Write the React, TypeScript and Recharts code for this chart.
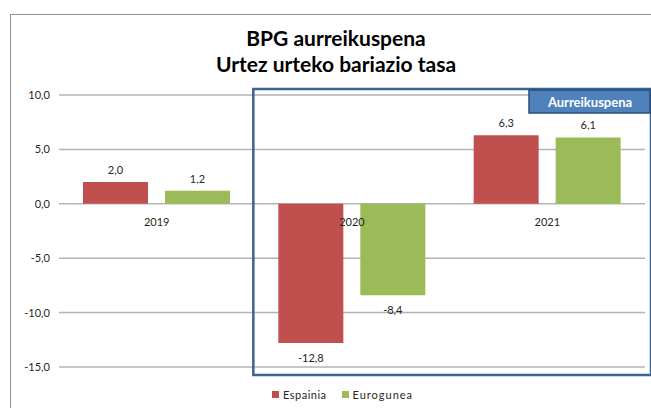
import React from 'react';
import {
  BarChart, Bar, XAxis, YAxis, CartesianGrid, LabelList,
  ReferenceArea, ReferenceDot, Legend
} from 'recharts';

const years = ['2019', '2020', '2021'];
const espainia = [2.0, -12.8, 6.3];
const eurogunea = [1.2, -8.4, 6.1];
const yTicks = [-15, -10, -5, 0, 5, 10];
const seriesNames = ['Espainia', 'Eurogunea'];
const forecastYears = ['2020', '2021'];
const forecastLabel = 'Aurreikuspena';
const titleLines = ['BPG aurreikuspena', 'Urtez urteko bariazio tasa'];

const RED = '#C0504D';
const GREEN = '#9BBB59';
const TEXT = '#262626';
const FONT = 'Lato, "Open Sans", sans-serif';

const data = years.map((year, i) => ({ year, espainia: espainia[i], eurogunea: eurogunea[i] }));

const fmt = (v: number) => Number(v).toFixed(1).replace('.', ',');

const ValueLabel = (props: any) => {
  const { x, y, width, height, value } = props;
  const top = Math.min(y, y + height);
  const bottom = Math.max(y, y + height);
  const ty = value >= 0 ? top - 8 : bottom + 19;
  return (
    <text x={x + width / 2} y={ty} textAnchor="middle" fontSize={11} fill={TEXT} fontFamily={FONT}>
      {fmt(value)}
    </text>
  );
};

// box drawn a bit outside the plot area, like the original
const ForecastBox = (props: any) => {
  const { x, y, width, height } = props;
  const bx = x - 1;
  const by = y - 6;
  const bw = width + 7;
  const bh = height + 14;
  const lw = 122;
  const lx = bx + bw - lw;
  return (
    <g>
      <rect x={bx} y={by} width={bw} height={bh} fill="none" stroke="#3B6397" strokeWidth={2.5} />
      <rect x={lx} y={by + 1} width={lw - 1} height={23} fill="#4F81BD" stroke="#2C4D75" strokeWidth={1.5} />
      <text x={lx + lw / 2} y={by + 18} textAnchor="middle" fill="#fff" fontSize={13}
        fontWeight="bold" fontFamily={FONT}>{forecastLabel}</text>
    </g>
  );
};

const LegendContent = (props: any) => {
  const { payload = [] } = props;
  return (
    <div style={{ display: 'flex', paddingLeft: 272, fontFamily: FONT, fontSize: 11, color: TEXT }}>
      {payload.map((p: any, i: number) => (
        <div key={p.value} style={{ display: 'flex', alignItems: 'center', marginRight: 15 }}>
          <span style={{ width: 7, height: 7, background: p.color, display: 'inline-block', marginRight: 4 }} />
          <span style={{ letterSpacing: i === 0 ? 0.5 : 1 }}>{p.value}</span>
        </div>
      ))}
    </div>
  );
};

export default function App() {
  return (
    <div style={{ position: 'absolute', left: 0, top: 0, width: 651, height: 408, overflow: 'hidden', background: '#fff' }}>
      <div style={{
        position: 'absolute', left: 10, top: 14, width: 642, height: 420,
        border: '1.5px solid #8E8E8E', boxSizing: 'border-box'
      }} />
      <div style={{
        position: 'absolute', left: 10, top: 25, width: 652, textAlign: 'center',
        fontFamily: FONT, fontWeight: 'bold', fontSize: 21, lineHeight: '26px', color: '#000'
      }}>
        {titleLines.map(t => <div key={t}>{t}</div>)}
      </div>
      <BarChart
        width={651}
        height={408}
        data={data}
        margin={{ top: 95, right: 6, bottom: 21, left: 0 }}
        barGap={17}
        style={{ position: 'absolute', left: 0, top: 0 }}
      >
        <CartesianGrid vertical={false} stroke="#B3B3B3" strokeWidth={1.5} />
        <XAxis dataKey="year" hide />
        <YAxis
          domain={[-15, 10]}
          ticks={yTicks}
          interval={0}
          width={59}
          axisLine={false}
          tickLine={false}
          tickMargin={3}
          tickFormatter={fmt}
          tick={{ fontSize: 11, fill: TEXT, fontFamily: FONT }}
        />
        <Bar dataKey="espainia" name={seriesNames[0]} fill={RED} barSize={65} isAnimationActive={false}>
          <LabelList dataKey="espainia" content={ValueLabel} />
        </Bar>
        <Bar dataKey="eurogunea" name={seriesNames[1]} fill={GREEN} barSize={65} isAnimationActive={false}>
          <LabelList dataKey="eurogunea" content={ValueLabel} />
        </Bar>
        {years.map(year => (
          <ReferenceDot
            key={year}
            x={year}
            y={0}
            r={1}
            fill="none"
            stroke="none"
            label={{ value: year, position: 'bottom', offset: 13, fontSize: 11, fill: TEXT, fontFamily: FONT }}
          />
        ))}
        <ReferenceArea
          x1={forecastYears[0]}
          x2={forecastYears[forecastYears.length - 1]}
          y1={-15}
          y2={10}
          ifOverflow="visible"
          shape={ForecastBox}
        />
        <Legend
          verticalAlign="bottom"
          content={LegendContent}
          wrapperStyle={{ left: 0, bottom: 0, width: 651, height: 20 }}
        />
      </BarChart>
    </div>
  );
}
